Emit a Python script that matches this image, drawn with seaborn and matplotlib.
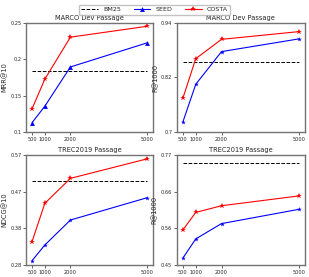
import matplotlib
matplotlib.use("Agg")
import matplotlib.pyplot as plt
import seaborn as sns
import pandas as pd
import numpy as np

sns.set_style("white")
plt.rcParams['font.family'] = ['DejaVu Sans']

sizes = [500, 1000, 2000, 5000]
titles = ["MARCO Dev Passage", "MARCO Dev Passage", "TREC2019 Passage", "TREC2019 Passage"]
ylabels = ["MRR@10", "R@1000", "NDCG@10", "R@1000"]

seed_mrr = [0.1127, 0.1355, 0.1895, 0.2227]
costa_mrr = [0.1318, 0.1727, 0.2305, 0.2455]
bm25_mrr = 0.1845

seed_r_dev = [0.722, 0.805, 0.877, 0.905]
costa_r_dev = [0.774, 0.8615, 0.904, 0.921]
bm25_r_dev = 0.854

seed_ndcg = [0.2914, 0.3327, 0.3986, 0.4575]
costa_ndcg = [0.3415, 0.4426, 0.5085, 0.560]
bm25_ndcg = 0.5023

seed_r_trec = [0.470, 0.526, 0.5705, 0.612]
costa_r_trec = [0.552, 0.603, 0.6225, 0.651]
bm25_r_trec = 0.746

panels = [
    (seed_mrr, costa_mrr, bm25_mrr, (0.1, 0.25), [0.1, 0.15, 0.2, 0.25], ["0.1", "0.15", "0.2", "0.25"], '^'),
    (seed_r_dev, costa_r_dev, bm25_r_dev, (0.7, 0.94), [0.7, 0.82, 0.94], ["0.7", "0.82", "0.94"], '*'),
    (seed_ndcg, costa_ndcg, bm25_ndcg, (0.28, 0.57), list(np.linspace(0.28, 0.57, 4)), ["0.28", "0.38", "0.47", "0.57"], '*'),
    (seed_r_trec, costa_r_trec, bm25_r_trec, (0.45, 0.77), list(np.linspace(0.45, 0.77, 4)), ["0.45", "0.56", "0.66", "0.77"], '*'),
]

fig = plt.figure(figsize=(3.09, 2.77), dpi=100)
rects = [
    [0.085, 0.5235, 0.41, 0.3935],
    [0.573, 0.5235, 0.413, 0.3935],
    [0.085, 0.0433, 0.41, 0.397],
    [0.573, 0.0433, 0.413, 0.397],
]

handles = None
for i, (seed, costa, bm25, ylim, yt, ytl, smark) in enumerate(panels):
    ax = fig.add_axes(rects[i])
    df = pd.DataFrame({"size": sizes * 2, "val": seed + costa,
                       "model": ["SEED"] * 4 + ["COSTA"] * 4})
    ax.plot([sizes[0], sizes[-1]], [bm25, bm25], ls='--', color='black', lw=0.7, label='BM25')
    sns.lineplot(data=df[df.model == "SEED"], x="size", y="val", ax=ax, color='blue',
                 marker=smark, markersize=3.5, markeredgewidth=0, lw=0.8, label="SEED")
    sns.lineplot(data=df[df.model == "COSTA"], x="size", y="val", ax=ax, color='red',
                 marker='*', markersize=4, markeredgewidth=0, lw=0.8, label="COSTA")
    if i == 0:
        handles, labels = ax.get_legend_handles_labels()
    leg = ax.get_legend()
    if leg:
        leg.remove()
    ax.set_ylim(*ylim)
    ax.set_yticks(yt)
    ax.set_yticklabels(ytl)
    ax.set_xticks(sizes)
    ax.set_xticklabels([str(s) for s in sizes])
    ax.set_xlim(275, 5225)
    ax.set_title(titles[i], fontsize=4.8, pad=2)
    ax.set_xlabel("")
    ax.set_ylabel(ylabels[i], fontsize=4.8, labelpad=2)
    ax.tick_params(axis='both', labelsize=3.6, length=2, width=0.5, pad=1.5, direction='out')
    ax.tick_params(axis='both', which='both', left=True, bottom=True)
    for sp in ax.spines.values():
        sp.set_color('0.45')
        sp.set_linewidth(1.0)

fig.legend(handles, labels, loc='upper center', bbox_to_anchor=(0.5, 0.995), ncol=3,
           fontsize=4.6, frameon=True, edgecolor='0.7', fancybox=True,
           handlelength=2.6, columnspacing=2.0, borderpad=0.35)

fig.savefig("out.png", dpi=100)
